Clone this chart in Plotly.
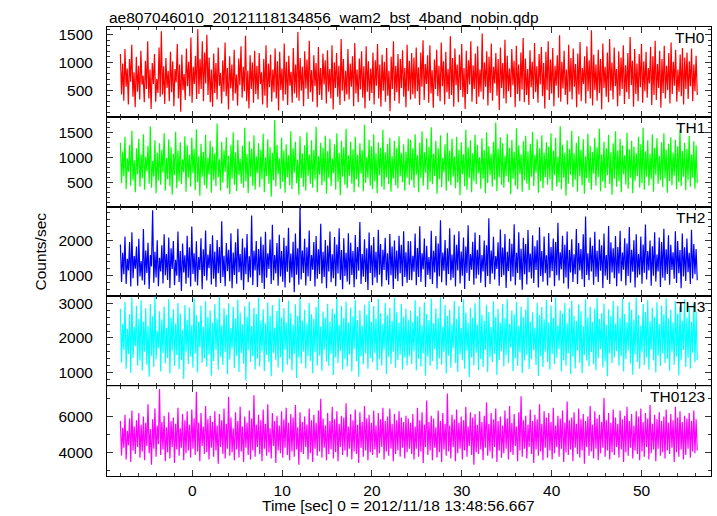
import numpy as np
import plotly.graph_objects as go

TITLE = "ae807046010_20121118134856_wam2_bst_4band_nobin.qdp"
X_TITLE = "Time [sec] 0 = 2012/11/18 13:48:56.667"
Y_TITLE = "Counts/sec"

T_START = -8.0
T_END = 56.2

TH0 = [
    1150, 420, 980, 310, 1240, 560, 890, 240, 1060, 650, 1320, 380, 820, 190, 1100, 470, 940, 330, 1210, 600,
    760, 280, 1030, 520, 1380, 350, 870, 160, 990, 610, 1150, 290, 700, 450, 1270, 380, 1560, 420, 930, 250,
    1080, 540, 850, 300, 1190, 460, 1020, 210, 880, 640, 1330, 350, 960, 110, 1140, 500, 790, 320, 1250, 570,
    1010, 390, 1450, 270, 920, 610, 1120, 340, 1600, 430, 1060, 520, 1380, 300, 1180, 620, 1500, 410, 1090, 280,
    870, 200, 1160, 450, 990, 330, 1270, 580, 810, 260, 1040, 470, 1360, 390, 900, 150, 1110, 530, 960, 310,
    1230, 440, 780, 220, 1070, 590, 1290, 360, 920, 480, 1480, 300, 850, 170, 1130, 520, 1000, 270, 1210, 430,
    940, 330, 1170, 610, 820, 240, 1060, 400, 1310, 180, 980, 550, 1140, 290, 870, 460, 1250, 350, 1020, 130,
    1190, 500, 890, 310, 1340, 420, 1010, 230, 1120, 580, 830, 270, 1260, 440, 960, 360, 1550, 310, 1080, 490,
    920, 210, 1200, 530, 1050, 340, 1390, 460, 860, 290, 1130, 570, 990, 190, 1280, 410, 900, 320, 1160, 600,
    1040, 260, 1220, 470, 880, 350, 1310, 150, 1000, 540, 1170, 380, 940, 230, 1420, 490, 1060, 300, 850, 420,
    1240, 330, 980, 560, 1110, 210, 1350, 440, 870, 280, 1070, 510, 1200, 360, 930, 170, 1290, 470, 1020, 310,
    890, 450, 1180, 240, 1040, 580, 1330, 350, 960, 200, 1140, 490, 1010, 290, 1260, 400, 850, 120, 1100, 520,
    1380, 310, 940, 460, 1150, 260, 1060, 540, 1220, 380, 900, 190, 1320, 480, 1030, 330, 1170, 420,
    1090, 350, 1270, 480, 910, 230, 1180, 560, 1400, 320, 970, 610, 1130, 270, 1310, 440, 860, 180, 1050, 520,
    1230, 390, 940, 300, 1360, 570, 1020, 240, 1190, 460, 880, 340, 1470, 410, 1080, 200, 1250, 590, 960, 280,
    1140, 500, 1330, 370, 900, 160, 1210, 430, 1040, 600, 1380, 290, 950, 520, 1160, 250, 1290, 380, 870, 470,
    1520, 330, 1000, 560, 1200, 220, 1100, 450, 1340, 310, 920, 620, 1170, 400, 1060, 140, 1270, 540, 990, 350,
    1410, 260, 1120, 480, 890, 370, 1240, 590, 1030, 190, 1300, 430, 960, 300, 1180, 510, 1440, 280, 1070, 410,
    880, 230, 1220, 550, 1010, 340, 1350, 460, 930, 270, 1150, 600, 1280, 390, 990, 170, 1190, 500, 1380, 320,
    1050, 440, 1260, 210, 940, 580, 1130, 360, 1490, 290, 1010, 530, 1210, 410, 870, 240, 1320, 470, 1080, 330,
    1250, 560, 970, 190, 1160, 420, 1370, 300, 900, 610, 1110, 260, 1290, 480, 1040, 350, 1580, 220, 1140, 500,
    960, 310, 1230, 450, 1060, 150, 1340, 540, 920, 380, 1180, 280, 1420, 490, 1000, 330, 1270, 570, 880, 210,
    1200, 400, 1090, 520, 1310, 250, 950, 460, 1170, 340, 1460, 590, 1030, 200, 1240, 430, 980, 300, 1150, 550,
    1330, 270, 1020, 480, 1190, 360, 900, 620, 1280, 230, 1110, 410, 1390, 320, 970, 540, 1210, 180, 1060, 450,
    1300, 350, 940, 500, 1170, 260, 1360, 430, 1010, 580, 1230, 290, 870, 470, 1140, 390, 1260, 240, 1090, 520,
    1180, 340, 1020, 570, 1250, 300, 960, 480, 1120, 410,
]

TH1 = [
    1290, 480, 1120, 620, 1410, 360, 980, 710, 1250, 430, 1530, 540, 940, 300, 1180, 660, 1370, 410, 1060, 580,
    1460, 350, 1010, 720, 1230, 470, 1620, 390, 930, 610, 1340, 280, 1090, 530, 1280, 450, 1150, 690, 1480, 330,
    990, 560, 1360, 420, 1200, 250, 1070, 640, 1510, 380, 1130, 520, 1300, 460, 960, 700, 1420, 310, 1240, 590,
    1050, 410, 1390, 680, 1170, 340, 1560, 500, 1020, 230, 1270, 610, 1110, 440, 1450, 370, 990, 650, 1330, 290,
    1210, 550, 1080, 420, 1680, 600, 960, 330, 1310, 490, 1140, 710, 1400, 380, 1030, 260, 1250, 570, 1500, 450,
    1100, 320, 1350, 640, 970, 470, 1230, 390, 1590, 520, 1060, 280, 1320, 610, 1170, 430, 1440, 350, 1020, 680,
    1280, 400, 1150, 560, 1470, 300, 1000, 620, 1360, 470, 1200, 210, 1090, 540, 1750, 420, 1250, 660, 980, 370,
    1390, 510, 1130, 290, 1260, 600, 1040, 440, 1520, 360, 1180, 690, 1310, 480, 950, 250, 1420, 580, 1080, 410,
    1240, 330, 1500, 620, 1060, 470, 1340, 390, 1150, 560, 1610, 300, 1020, 650, 1290, 440, 1190, 520, 1430, 270,
    1120, 590, 1370, 420, 980, 680, 1260, 350, 1480, 510, 1090, 240, 1330, 610, 1200, 450, 1570, 380, 1040, 630,
    1310, 470, 1160, 300, 1410, 560, 1050, 400, 1280, 670, 1140, 320, 1650, 490, 1010, 590, 1350, 430, 1220, 360,
    1460, 520, 1080, 280, 1300, 640, 1190, 410, 1550, 350, 1100, 600, 1270, 460, 1390, 310, 1020, 570, 1330, 440,
    1180, 380, 1420, 620, 1090, 500, 1260, 330, 1110, 590, 1370, 450,
    1350, 540, 1180, 390, 1460, 650, 1040, 300, 1290, 580, 1520, 430, 1100, 690, 1380, 350, 1210, 510, 1600, 460,
    1070, 620, 1330, 270, 1180, 560, 1440, 400, 990, 700, 1260, 330, 1490, 520, 1130, 440, 1370, 610, 1020, 380,
    1410, 490, 1150, 240, 1300, 660, 1060, 420, 1550, 350, 1200, 590, 1340, 300, 1080, 530, 1450, 460, 1250, 680,
    1000, 370, 1380, 570, 1140, 280, 1500, 480, 1220, 640, 1070, 410, 1310, 550, 1700, 320, 1170, 600, 1400, 450,
    1280, 390, 1030, 620, 1470, 500, 1190, 260, 1350, 570, 1110, 430, 1580, 360, 1240, 660, 1060, 310, 1320, 540,
    1430, 470, 1120, 340, 1270, 610, 1510, 420, 1050, 690, 1360, 290, 1180, 520, 1440, 380, 1090, 600, 1300, 450,
    1210, 560, 1480, 330, 1130, 640, 1390, 410, 1010, 500, 1620, 360, 1250, 590, 1090, 230, 1340, 470, 1170, 650,
    1530, 400, 1080, 550, 1290, 310, 1420, 620, 1150, 440, 1360, 270, 1020, 580, 1470, 490, 1230, 350, 1110, 670,
    1390, 430, 1200, 600, 1570, 320, 1060, 510, 1310, 380, 1180, 640, 1450, 460, 1100, 250, 1280, 570, 1520, 410,
    1140, 520, 1370, 300, 1240, 660, 1040, 450, 1490, 370, 1160, 590, 1330, 280, 1210, 530, 1080, 620, 1410, 390,
    1260, 480, 1590, 350, 1120, 610, 1340, 430, 1070, 560, 1460, 310, 1190, 650, 1380, 470, 1030, 540, 1300, 400,
    1480, 580, 1150, 290, 1270, 520, 1400, 440, 1090, 630, 1350, 360, 1220, 500, 1560, 420, 1130, 610, 1290, 340,
    1170, 550, 1430, 410, 1060, 590, 1320, 370, 1240, 480,
]

TH2 = [
    1890, 820, 1650, 1040, 2120, 760, 1480, 1150, 1960, 690, 2240, 930, 1560, 1200, 1830, 710, 2050, 980, 1420, 860,
    2330, 740, 1720, 1080, 1940, 620, 1590, 1260, 2870, 800, 1680, 950, 2010, 700, 1510, 1120, 1870, 780, 2180, 1010,
    1620, 880, 2090, 650, 1780, 1190, 1990, 730, 1450, 1000, 2260, 820, 1700, 560, 1920, 1090, 1580, 770, 2140, 940,
    1810, 690, 2400, 1050, 1640, 830, 1980, 720, 1530, 1160, 2070, 610, 1750, 990, 2290, 860, 1600, 1210, 1900, 750,
    2150, 910, 1690, 680, 2020, 1070, 1820, 790, 2550, 960, 1570, 700, 1930, 1130, 1740, 840, 2210, 640, 1660, 1020,
    1950, 770, 2340, 1100, 1620, 870, 2060, 590, 1800, 1040, 2190, 810, 1550, 950, 2720, 730, 1710, 1150, 1990, 680,
    1760, 1010, 2110, 790, 1880, 620, 2250, 940, 1640, 1190, 2030, 760, 2450, 870, 1590, 1060, 1930, 710, 2170, 980,
    1700, 830, 2080, 660, 1850, 1110, 2370, 800, 1630, 950, 1970, 530, 2200, 1030, 1780, 740, 2960, 890, 1720, 1080,
    2050, 720, 1810, 980, 2290, 850, 1590, 1170, 1960, 690, 2130, 910, 1750, 1050, 2480, 780, 1680, 960, 2020, 640,
    1860, 1120, 2260, 810, 1610, 930, 2100, 700, 1890, 1060, 2350, 880, 1730, 610, 2070, 990, 1650, 830, 2210, 750,
    1940, 1020, 1700, 670, 2160, 900, 1820, 1140, 2530, 760, 1620, 970, 2040, 820, 1780, 590, 2230, 1080, 1870, 730,
    2100, 950, 1680, 800, 2310, 1030, 1900, 690, 1740, 1160, 2080, 870, 1640, 740, 2190, 1010, 1830, 620, 2000, 910,
    1720, 840, 2140, 1070, 1880, 700, 2270, 960, 1670, 800, 1990, 880,
    1980, 870, 1570, 1110, 2200, 730, 1790, 960, 2410, 820, 1640, 1180, 2060, 680, 1850, 1020, 1530, 900, 2280, 760,
    1710, 1090, 2130, 640, 1920, 980, 2580, 810, 1660, 1140, 2020, 720, 1780, 1050, 2350, 870, 1600, 940, 2170, 690,
    1880, 1150, 2270, 780, 1690, 1000, 2090, 620, 1830, 1080, 2440, 850, 1620, 1170, 1970, 740, 2230, 920, 1740, 1030,
    2160, 800, 1590, 1120, 2000, 670, 1870, 990, 2640, 760, 1720, 1060, 2110, 890, 1560, 1190, 1950, 710, 2320, 960,
    1800, 1010, 2190, 650, 1680, 1130, 2050, 840, 1910, 970, 2470, 730, 1650, 1080, 2240, 880, 1770, 600, 2080, 1040,
    1900, 750, 2300, 1100, 1630, 920, 2150, 790, 1840, 1160, 2010, 660, 2380, 990, 1700, 830, 2120, 1070, 1580, 720,
    2220, 940, 1820, 1130, 2060, 700, 1960, 1010, 2510, 860, 1670, 1180, 2140, 780, 1880, 950, 2260, 630, 1730, 1090,
    2040, 820, 1610, 1040, 2330, 760, 1930, 1150, 1760, 900, 2180, 680, 2690, 1020, 1640, 870, 2090, 1120, 1850, 740,
    2250, 970, 1710, 820, 2030, 1140, 1870, 650, 2200, 1000, 1590, 880, 2420, 760, 1950, 1090, 1780, 930, 2130, 700,
    1820, 1060, 2280, 840, 1660, 1170, 2070, 720, 1920, 990, 2390, 800, 1740, 1110, 2010, 660, 2180, 950, 1620, 1030,
    2120, 770, 1890, 1080, 2460, 890, 1700, 1150, 2000, 710, 1840, 1000, 2240, 830, 1600, 1120, 2090, 680, 1960, 940,
    2340, 860, 1750, 1050, 2150, 740, 1880, 1160, 1670, 910, 2270, 790, 1990, 1070, 1730, 640, 2200, 980, 1810, 850,
    2060, 1100, 1650, 760, 2310, 920, 1900, 1040, 1760, 870,
]

TH3 = [
    2850, 1280, 2410, 1650, 3050, 1100, 2270, 1530, 2690, 980, 3180, 1420, 2320, 1760, 2940, 1190, 2560, 1340, 3100, 1050,
    2480, 1600, 2870, 1220, 2350, 870, 2990, 1480, 2630, 1150, 3210, 1370, 2200, 1700, 2780, 1020, 2540, 1560, 2920, 1260,
    2300, 1410, 3130, 960, 2600, 1630, 2840, 1180, 2420, 1500, 3020, 1090, 2710, 1350, 2250, 800, 2960, 1600, 2520, 1240,
    2890, 1460, 2380, 1130, 3160, 1550, 2660, 990, 2480, 1720, 2950, 1280, 2330, 1400, 3070, 1160, 2610, 1520, 2800, 900,
    2440, 1330, 2990, 1650, 2560, 1070, 3200, 1450, 2370, 1210, 2860, 1590, 2680, 940, 3010, 1370, 2290, 1690, 2910, 1120,
    2570, 1480, 3120, 1010, 2740, 1560, 2400, 1250, 2930, 760, 2620, 1640, 3060, 1300, 2350, 1470, 2880, 1080, 2700, 1390,
    3180, 1170, 2500, 1610, 2840, 1030, 2430, 1500, 3040, 1290, 2650, 880, 2960, 1570, 2310, 1360, 2790, 1140, 3150, 1440,
    2590, 990, 2870, 1660, 2460, 1220, 3090, 1380, 2720, 1060, 2380, 1530, 2980, 830, 2640, 1420, 3170, 1250, 2510, 1600,
    2820, 1110, 2420, 1470, 3030, 1330, 2690, 970, 2560, 1580, 2900, 1200, 3140, 1490, 2340, 1040, 2770, 1650, 2600, 1310,
    3000, 1180, 2480, 1540, 2850, 920, 2710, 1430, 3190, 1270, 2390, 1620, 2940, 1090, 2580, 1390, 3060, 1160, 2450, 1510,
    2890, 1020, 2630, 1680, 3110, 1320, 2520, 870, 2800, 1470, 2360, 1230, 2970, 1550, 2680, 1100, 3080, 1410, 2470, 1290,
    2930, 1570, 2560, 1060, 3140, 1380, 2730, 1190, 2410, 1640, 3020, 950, 2660, 1450, 2880, 1240, 2500, 1600, 3170, 1130,
    2750, 1360, 2440, 1510, 2990, 1080, 2620, 1430, 2860, 1200, 2540, 1470,
    2790, 1240, 2470, 1610, 3100, 1050, 2630, 1390, 2910, 1160, 2360, 1550, 3040, 900, 2700, 1460, 2520, 1190, 3150, 1330,
    2430, 1670, 2860, 1080, 2580, 1400, 3190, 1220, 2330, 1590, 2960, 960, 2650, 1480, 2820, 1130, 2400, 1700, 3080, 1270,
    2550, 1010, 2930, 1520, 2290, 1350, 3120, 1100, 2740, 1620, 2450, 850, 2880, 1430, 2600, 1200, 3010, 1570, 2390, 1060,
    3160, 1380, 2680, 1150, 2510, 1650, 2970, 1000, 2760, 1440, 2320, 1290, 3070, 1540, 2620, 920, 2850, 1360, 2440, 1610,
    2990, 1170, 2570, 1490, 3140, 1260, 2410, 1720, 2800, 1030, 2690, 1400, 3060, 1180, 2350, 1580, 2920, 980, 2610, 1340,
    2830, 1510, 3200, 1090, 2480, 1380, 2750, 1640, 2300, 1210, 3030, 890, 2670, 1460, 2900, 1150, 2540, 1600, 3110, 1300,
    2460, 1070, 2950, 1530, 2590, 1240, 3180, 1420, 2370, 1680, 2810, 1020, 2720, 1350, 3020, 1190, 2430, 1560, 2870, 940,
    3090, 1450, 2640, 1110, 2500, 1620, 2980, 1280, 2780, 970, 2340, 1500, 3130, 1340, 2600, 1170, 2910, 1590, 2470, 1230,
    2860, 1060, 3170, 1410, 2550, 1670, 2730, 1140, 3000, 1320, 2390, 880, 2840, 1550, 2650, 1260, 3080, 1440, 2420, 1610,
    2940, 1190, 2580, 1470, 3150, 1020, 2700, 1380, 2460, 1630, 3050, 1250, 2820, 930, 2530, 1520, 3190, 1300, 2670, 1100,
    2370, 1580, 2990, 1210, 2760, 1430, 3100, 1070, 2490, 1660, 2890, 1340, 2620, 990, 3040, 1480, 2410, 1180, 2950, 1550,
    2690, 1270, 3160, 1390, 2570, 1040, 2830, 1600, 2440, 1220, 3070, 1460, 2710, 910, 2920, 1350, 2510, 1650, 3130, 1150,
    2600, 1420, 2880, 1110, 2480, 1570, 3010, 1290, 2770, 1360,
]

TH0123 = [
    5750, 3820, 5380, 4250, 6100, 3600, 5200, 4400, 5900, 3450, 6350, 4100, 5450, 3900, 5800, 4300, 6200, 3700, 5550, 4050,
    6000, 3550, 5650, 4350, 6700, 3950, 5300, 3300, 5850, 4200, 6450, 3750, 5500, 4450, 7550, 3850, 5700, 4150, 6050, 3500,
    5400, 4000, 6250, 3650, 5750, 4300, 5950, 3400, 5600, 4150, 6500, 3800, 5350, 4250, 6150, 3550, 5800, 3950, 6300, 4100,
    5550, 3700, 6400, 4200, 5900, 3850, 7400, 4050, 5650, 3500, 6200, 4350, 5450, 3900, 6600, 4000, 5850, 3600, 6050, 4250,
    5700, 3750, 6300, 4100, 5500, 3350, 6150, 4300, 5800, 3900, 6450, 3650, 5600, 4200, 7100, 3800, 5950, 4000, 5350, 3550,
    6250, 4150, 5750, 3700, 6550, 4050, 5450, 3450, 6000, 4250, 5650, 3850, 6350, 3600, 5900, 4100, 7200, 3750, 5550, 4300,
    6100, 3900, 5800, 3500, 6400, 4200, 5600, 3800, 6700, 4000, 5350, 3650, 6200, 4350, 5750, 3400, 6050, 4100, 5500, 3950,
    6300, 3700, 5850, 4250, 6500, 3850, 5650, 3550, 6150, 4050, 5950, 3750, 6650, 4150, 5400, 3300, 6250, 4000, 5700, 3900,
    6000, 4300, 5550, 3600, 6450, 3950, 5800, 3450, 6100, 4200, 5650, 3800, 6350, 4050, 7000, 3700, 5900, 4250, 5500, 3550,
    6200, 3900, 5750, 4150, 6550, 3650, 5850, 4000, 6300, 3500, 5600, 4300, 6050, 3850, 5950, 4100, 6750, 3750, 5450, 4200,
    6150, 3600, 5800, 4050, 6400, 3900, 5550, 3400, 6250, 4250, 5700, 3750, 6600, 4100, 5900, 3550, 6100, 4000, 5650, 3850,
    6350, 4150, 5500, 3700, 6200, 3950, 5850, 4300, 6500, 3600, 5750, 4050, 6000, 3800, 6450, 4200, 5600, 3500, 6150, 3900,
    5800, 4100, 6300, 3750, 5950, 4250, 5700, 3650, 6050, 4000, 5900, 4200,
    5650, 3900, 6150, 3600, 5450, 4200, 6500, 3750, 5800, 4050, 6250, 3400, 5550, 4300, 6900, 3850, 5700, 4100, 6050, 3550,
    5900, 4250, 5400, 3700, 6350, 4000, 5750, 3450, 6200, 4150, 5600, 3800, 7300, 4050, 5500, 3650, 6100, 4300, 5850, 3500,
    6400, 3950, 5650, 4200, 6000, 3600, 5800, 4100, 6550, 3750, 5450, 4350, 6250, 3850, 5950, 3300, 6150, 4000, 5550, 3900,
    6300, 4150, 5700, 3550, 6050, 4250, 6800, 3800, 5600, 4050, 6200, 3650, 5850, 4300, 6450, 3450, 5750, 4100, 6000, 3700,
    5500, 3950, 6350, 4200, 5900, 3600, 6600, 4000, 5650, 3850, 6150, 4350, 5450, 3500, 6250, 4100, 7150, 3750, 5800, 4200,
    6050, 3650, 5550, 4300, 6400, 3900, 5750, 3400, 6100, 4150, 5850, 3800, 6700, 4050, 5600, 3550, 6300, 4250, 5950, 3700,
    6200, 4100, 5700, 3600, 6500, 3950, 5500, 4300, 6050, 3750, 5900, 4200, 6350, 3450, 5650, 4000, 6850, 3850, 5800, 4150,
    5950, 3500, 6250, 4250, 5600, 3900, 6450, 3700, 5850, 4100, 6150, 3350, 5750, 4300, 6000, 3800, 6600, 4050, 5550, 3650,
    6300, 4200, 5900, 3550, 6100, 3950, 5700, 4250, 7050, 3750, 5800, 4100, 6200, 3600, 5650, 4000, 6400, 3850, 5950, 4300,
    5600, 3700, 6350, 4150, 5850, 3450, 6050, 4000, 6550, 3800, 5750, 4250, 6150, 3650, 5500, 4100, 6300, 3900, 6000, 3550,
    6450, 4050, 5700, 3750, 6200, 4300, 5900, 3600, 6650, 3950, 5600, 4150, 6100, 3500, 5850, 4200, 6250, 3800, 5750, 4000,
    6000, 3650, 6400, 4100, 5650, 3900, 6150, 4250, 5800, 3450, 6550, 4000, 5950, 3750, 6300, 4150, 5700, 3600, 6050, 3850,
    5900, 4200, 6200, 3700, 5750, 4050, 6350, 3950, 5850, 4100,
]

PANEL_NAMES = ["TH0", "TH1", "TH2", "TH3", "TH0123"]
PANEL_DATA = [TH0, TH1, TH2, TH3, TH0123]
PANEL_COLORS = ["#ff0000", "#00ff00", "#0000ff", "#00ffff", "#ff00ff"]
Y_RANGES = [[18, 1639], [12, 1812], [408, 2971], [592, 3213], [2668, 7708]]
Y_DTICK = [500, 500, 1000, 1000, 2000]
Y_MINOR = [100, 100, 200, 200, 1000]
X_RANGE = [-9.49, 57.73]

FONT = "Liberation Sans, Arial, Helvetica, sans-serif"
FS = 15.5

fig = go.Figure()
n = len(PANEL_NAMES)
for i in range(n):
    vals = PANEL_DATA[i]
    t = np.linspace(T_START, T_END, len(vals))
    suffix = "" if i == 0 else str(i + 1)
    fig.add_trace(go.Scatter(
        x=t, y=vals, mode="lines",
        line=dict(color=PANEL_COLORS[i], width=1.2),
        xaxis="x" + suffix, yaxis="y" + suffix,
        showlegend=False, hoverinfo="skip",
    ))

layout = dict(
    width=717, height=516,
    margin=dict(l=107, r=6, t=27, b=40),
    paper_bgcolor="white", plot_bgcolor="white",
    font=dict(family=FONT, size=FS, color="black"),
    showlegend=False,
)

axis_common = dict(
    showgrid=False, zeroline=False,
    showline=True, linecolor="black", linewidth=1, mirror="allticks",
    ticks="inside", ticklen=6, tickwidth=1, tickcolor="#333333",
)

for i in range(n):
    suffix = "" if i == 0 else str(i + 1)
    top = 1.0 - 0.2 * i
    bot = top - 0.2
    xa = dict(axis_common)
    xa.update(
        domain=[0, 1], range=X_RANGE, anchor="y" + suffix,
        dtick=10, tick0=0,
        minor=dict(dtick=2, tick0=0, ticks="inside", ticklen=3, tickcolor="#333333"),
        showticklabels=(i == n - 1),
        tickfont=dict(size=FS),
    )
    if i > 0:
        xa["matches"] = "x"
    ya = dict(axis_common)
    ya.update(
        domain=[max(bot, 0), top], range=Y_RANGES[i], anchor="x" + suffix,
        dtick=Y_DTICK[i], tick0=0,
        minor=dict(dtick=Y_MINOR[i], tick0=0, ticks="inside", ticklen=3, tickcolor="#333333"),
        ticklabelstandoff=10,
        tickfont=dict(size=FS),
    )
    layout["xaxis" + suffix] = xa
    layout["yaxis" + suffix] = ya

fig.update_layout(**layout)

annotations = []
for i, name in enumerate(PANEL_NAMES):
    top = 1.0 - 0.2 * i
    annotations.append(dict(
        text=name, xref="paper", yref="paper", x=0.994, y=top,
        xanchor="right", yanchor="top", showarrow=False,
        font=dict(size=FS, color="black"), yshift=0,
    ))
annotations.append(dict(
    text=TITLE, xref="paper", yref="paper", x=0, y=1,
    xanchor="left", yanchor="bottom", showarrow=False, yshift=-1,
    font=dict(size=FS, color="black"),
))
annotations.append(dict(
    text=X_TITLE, xref="paper", yref="paper", x=0.482, y=0,
    xanchor="center", yanchor="top", showarrow=False, yshift=-19,
    font=dict(size=FS, color="black"),
))
annotations.append(dict(
    text=Y_TITLE, xref="paper", yref="paper", x=0, y=0.5,
    xanchor="center", yanchor="middle", showarrow=False, xshift=-67,
    textangle=-90, font=dict(size=FS, color="black"),
))
fig.update_layout(annotations=annotations)

fig.write_html(
    "out.html",
    config={"displayModeBar": False},
    post_script="document.body.style.margin='0px';",
)
